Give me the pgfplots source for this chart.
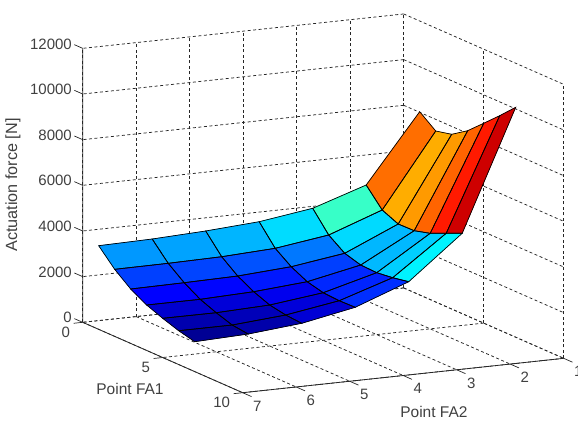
\documentclass[border=0pt]{standalone}
\usepackage{pgfplots}
\usepackage{pgfplotstable}
\usepackage{fontspec}
\setmainfont{Liberation Sans}
\pgfplotsset{compat=1.18}

% columns: point FA1, point FA2, force
\pgfplotstableread{
fa1 fa2 force
1 1 8027
2 1 7490
3 1 7654
4 1 8120
5 1 8753
6 1 9394
7 1 10070
1 2 5067
2 2 4281
3 2 3976
4 2 3991
5 2 4185
6 2 4494
7 2 4802
1 3 4298
2 3 3437
3 3 2944
4 3 2739
5 3 2711
6 3 2800
7 3 2933
1 4 3962
2 4 3105
3 4 2608
4 4 2259
5 4 2085
6 4 2043
7 4 2063
1 5 3806
2 5 2988
3 5 2451
4 5 2072
5 5 1798
6 5 1668
7 5 1613
1 6 3706
2 6 2950
3 6 2409
4 6 1990
5 6 1711
6 6 1481
7 6 1395
1 7 3664
2 7 2938
3 7 2384
4 7 1991
5 7 1717
6 7 1482
7 7 1309
}\forcetable

\pgfplotsset{colormap/jet}

\begin{document}
\begin{tikzpicture}
  \useasboundingbox (0,0) rectangle (578pt,421pt);
  \begin{axis}[
    at={(82.7pt,28.3pt)}, anchor=south west,
    x={(16pt,-7.04pt)},
    y={(53.5pt,5.73pt)},
    z={(0pt,0.02283pt)},
    y dir=reverse,
    xmin=0, xmax=10,
    ymin=1, ymax=7,
    zmin=0, zmax=12000,
    xtick={0,5,10},
    ytick={1,2,3,4,5,6,7},
    ztick={0,2000,...,12000},
    scaled z ticks=false,
    tick label style={font=\fontsize{15}{17}\selectfont, text=black!75, inner sep=0pt},
    xticklabel style={anchor=east, xshift=-12.5pt, yshift=-10pt},
    yticklabel style={anchor=center, xshift=14.6pt, yshift=-13.3pt},
    zticklabel style={anchor=east, xshift=-10.7pt, yshift=4.5pt},
    label style={font=\fontsize{15.5}{17}\selectfont, text=black!75},
    /pgf/number format/assume math mode=true,
    /pgf/number format/1000 sep={},
    grid=major,
    grid style={black!85, line width=0.75pt, dash pattern=on 3pt off 2.5pt},
    axis line style={draw=none},
    tick style={draw=none},
    major tick length=0pt,
    xlabel={Point FA1},
    ylabel={Point FA2},
    zlabel={Actuation force [N]},
    xlabel style={at={(axis cs:8.2,8.568,0)}, anchor=center},
    ylabel style={at={(axis cs:14.54,4.784,0)}, anchor=center},
    zlabel style={at={(axis cs:0,8.303,6341)}, anchor=center, rotate=0,
      font=\fontsize{16.2}{18}\selectfont},
    point meta min=1309, point meta max=10070,
    colormap name=jet,
    clip=false,
  ]
    \addplot3[surf, shader=flat corner, z buffer=none, mesh/cols=7, point meta=z]
      table[x=fa1, y=fa2, z=force] {\forcetable};
    \addplot3[mesh, draw=black, line width=0.7pt, z buffer=none, mesh/cols=7,
      point meta=0, colormap={allblack}{color=(black) color=(black)}]
      table[x=fa1, y=fa2, z=force] {\forcetable};
    % axis lines and tick stubs, matlab style
    \addplot3[black!85, line width=0.8pt, forget plot] coordinates {(0,7,12000) (0,7,0) (10,7,0) (10,1,0)};
    \addplot3[black!85, line width=0.7pt, forget plot, unbounded coords=jump] coordinates {
      (0,7,0) (0,7.17,0) (nan,nan,nan)
      (5,7,0) (5,7.17,0) (nan,nan,nan)
      (10,7,0) (10,7.17,0) (nan,nan,nan)
      (10,7,0) (10.55,7,0) (nan,nan,nan)
      (10,6,0) (10.55,6,0) (nan,nan,nan)
      (10,5,0) (10.55,5,0) (nan,nan,nan)
      (10,4,0) (10.55,4,0) (nan,nan,nan)
      (10,3,0) (10.55,3,0) (nan,nan,nan)
      (10,2,0) (10.55,2,0) (nan,nan,nan)
      (10,1,0) (10.55,1,0) (nan,nan,nan)
      (0,7,0) (-0.52,7,0) (nan,nan,nan)
      (0,7,2000) (-0.52,7,2000) (nan,nan,nan)
      (0,7,4000) (-0.52,7,4000) (nan,nan,nan)
      (0,7,6000) (-0.52,7,6000) (nan,nan,nan)
      (0,7,8000) (-0.52,7,8000) (nan,nan,nan)
      (0,7,10000) (-0.52,7,10000) (nan,nan,nan)
      (0,7,12000) (-0.52,7,12000)
    };
  \end{axis}
\end{tikzpicture}
\end{document}
